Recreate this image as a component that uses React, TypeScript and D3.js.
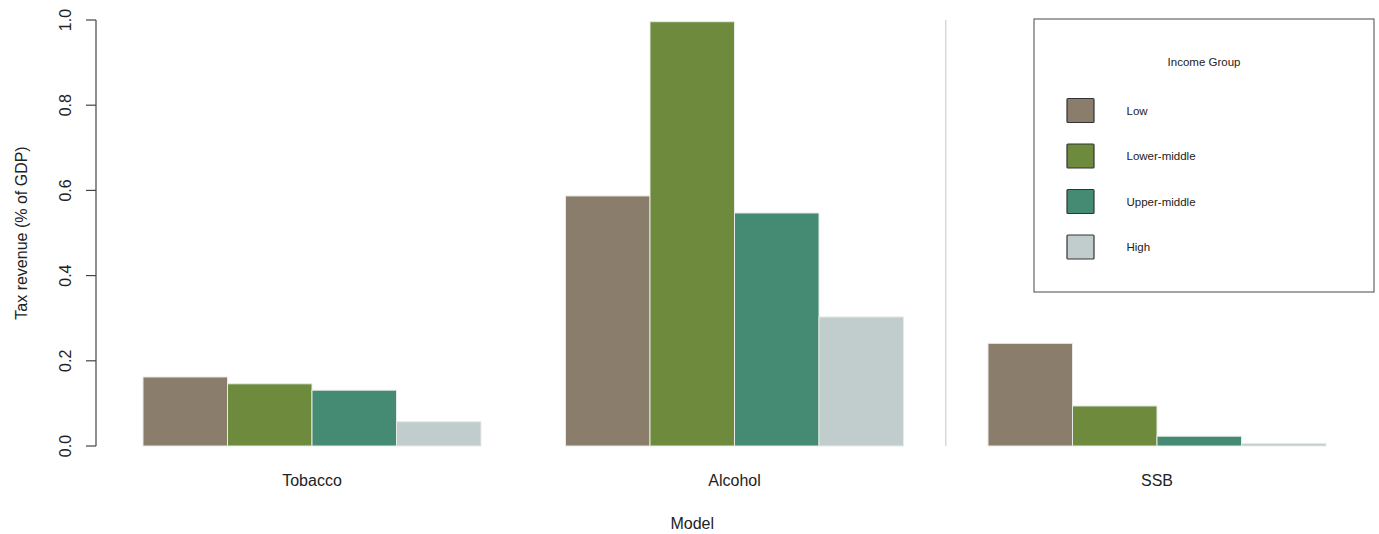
import React, { useEffect } from "react";
import * as d3 from "d3";

const categories = ["Tobacco", "Alcohol", "SSB"];
const incomeGroups = ["Low", "Lower-middle", "Upper-middle", "High"];
const lowValues = [0.162, 0.587, 0.241];
const lowerMiddleValues = [0.146, 0.996, 0.094];
const upperMiddleValues = [0.131, 0.547, 0.023];
const highValues = [0.057, 0.303, 0.006];
const yTicks = [0, 0.2, 0.4, 0.6, 0.8, 1.0];
const colors = ["#8B7D6B", "#6E8B3D", "#458B74", "#C1CDCD"];

const series = [lowValues, lowerMiddleValues, upperMiddleValues, highValues];

export default function App() {
  useEffect(() => {
    document.body.style.margin = "0";
  }, []);
  const W = 1379, H = 534;
  const font = "'Liberation Sans', Arial, Helvetica, sans-serif";
  const y = d3.scaleLinear().domain([0, 1]).range([446, 20]);
  const x = d3.scaleLinear().domain([0, 15]).range([58.5, 1326]);
  const unit = x(1) - x(0);
  const axisX = 96;
  const textColor = "#222";

  return (
    <svg width={W} height={H} style={{ display: "block", background: "#fff" }} fontFamily={font}>
      {/* separator line */}
      <line x1={x(10.5)} x2={x(10.5)} y1={y(1)} y2={y(0)} stroke="#cfcfcf" strokeWidth={1.2} />
      {/* bars */}
      {categories.map((c, g) =>
        series.map((vals, i) => {
          const left = x(1 + g * 5 + i);
          return (
            <rect
              key={c + i}
              x={left}
              y={y(vals[g])}
              width={unit}
              height={y(0) - y(vals[g])}
              fill={colors[i]}
              stroke="#e6ebe6"
              strokeWidth={1}
            />
          );
        })
      )}
      {/* y axis */}
      <line x1={axisX} x2={axisX} y1={y(1)} y2={y(0)} stroke="#444" strokeWidth={1.2} />
      {yTicks.map((t) => (
        <g key={t}>
          <line x1={axisX - 10} x2={axisX} y1={y(t)} y2={y(t)} stroke="#444" strokeWidth={1.2} />
          <text
            transform={`translate(${71},${y(t)}) rotate(-90)`}
            textAnchor="middle"
            fontSize={16}
            fill={textColor}
          >
            {t.toFixed(1)}
          </text>
        </g>
      ))}
      <text
        transform={`translate(${27},${233}) rotate(-90)`}
        textAnchor="middle"
        fontSize={16}
        fill={textColor}
      >
        Tax revenue (% of GDP)
      </text>
      {/* category labels */}
      {categories.map((c, g) => (
        <text key={c} x={x(1 + g * 5 + 2)} y={486} textAnchor="middle" fontSize={16} fill={textColor}>
          {c}
        </text>
      ))}
      <text x={x(7.5)} y={529} textAnchor="middle" fontSize={16} fill={textColor}>
        Model
      </text>
      {/* legend */}
      <rect x={1034} y={19} width={340} height={273} fill="#fff" stroke="#666" strokeWidth={1.2} />
      <text x={1204} y={66} textAnchor="middle" fontSize={11.5} fill={textColor}>
        Income Group
      </text>
      {incomeGroups.map((gname, i) => {
        const top = 98.5 + i * 45.5;
        return (
          <g key={gname}>
            <rect x={1067} y={top} width={27} height={24} fill={colors[i]} stroke="#333" strokeWidth={1.2} rx={1} />
            <text x={1126.5} y={top + 16} fontSize={11.5} fill={textColor}>
              {gname}
            </text>
          </g>
        );
      })}
    </svg>
  );
}
